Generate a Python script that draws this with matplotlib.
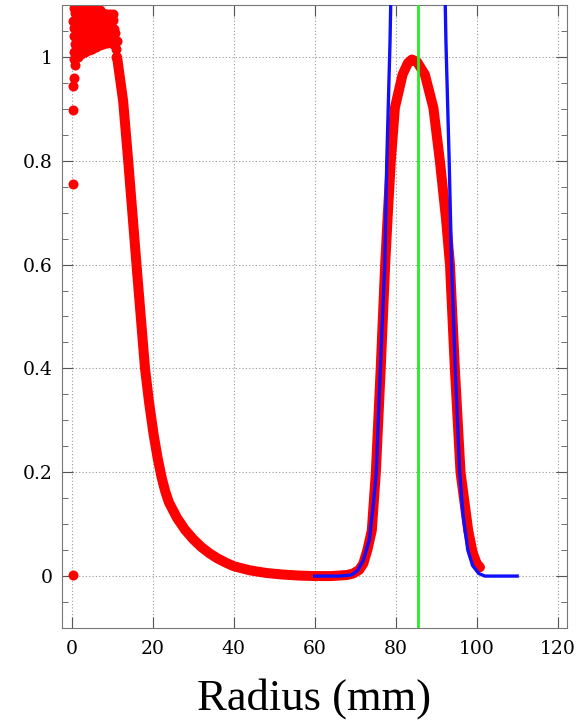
import matplotlib.pyplot as plt
from matplotlib.ticker import MultipleLocator

# noisy plateau near the centre (r < 11 mm)
cloud_r = [0.6, 0.5, 0.7, 0.5, 0.6, 0.4, 0.7, 0.5,
           1.5, 1.4, 1.6, 1.3, 1.5, 1.7, 1.4,
           2.4, 2.5, 2.3, 2.6, 2.4, 2.2, 2.5,
           3.3, 3.2, 3.4, 3.1, 3.3, 3.5, 3.2,
           4.2, 4.3, 4.1, 4.4, 4.2, 4.0,
           5.1, 5.0, 5.2, 4.9, 5.1, 5.3,
           6.0, 6.1, 5.9, 6.2, 6.0, 5.8,
           6.9, 6.8, 7.0, 6.7, 6.9, 7.1,
           7.8, 7.7, 7.9, 7.6, 7.8,
           8.7, 8.6, 8.8, 8.5, 8.7,
           9.6, 9.5, 9.7, 9.4, 9.4,
           10.3, 10.2, 10.4, 10.1, 10.2,
           11.0, 10.9, 11.1, 10.8,
           0.2, 0.2, 0.25, 0.4, 0.5, 0.8]
cloud_v = [0.995, 1.010, 1.025, 1.040, 1.055, 1.070, 1.085, 1.095,
           1.000, 1.016, 1.031, 1.044, 1.061, 1.074, 1.090,
           1.006, 1.020, 1.036, 1.049, 1.066, 1.081, 1.096,
           1.010, 1.026, 1.039, 1.056, 1.071, 1.084, 1.097,
           1.014, 1.031, 1.046, 1.059, 1.076, 1.091,
           1.016, 1.029, 1.046, 1.061, 1.074, 1.090,
           1.019, 1.036, 1.049, 1.066, 1.079, 1.094,
           1.023, 1.036, 1.053, 1.066, 1.082, 1.091,
           1.025, 1.041, 1.054, 1.071, 1.084,
           1.027, 1.043, 1.056, 1.073, 1.082,
           1.031, 1.044, 1.061, 1.074, 1.083,
           1.025, 1.041, 1.054, 1.071, 1.083,
           1.000, 1.016, 1.031, 1.046,
           0.003, 0.756, 0.898, 0.944, 0.960, 0.985]

# smooth part of the measured profile
prof_r = [11.2, 11.9, 12.7, 13.95, 16.0, 18.1, 19.1, 20.2, 21.2, 22.2, 23.1,
          24.0, 26.0, 28.0, 30.0, 32.0, 34.0, 36.0, 38.0, 40.0, 44.0, 48.0,
          52.0, 56.0, 60.0, 64.0, 68.0, 69.5, 71.0, 72.0, 73.0, 74.1, 75.1,
          76.3, 77.4, 78.0, 78.8, 79.8, 81.7, 83.0, 84.0, 85.3, 87.2, 89.3,
          90.9, 92.4, 93.4, 94.6, 96.0, 97.9, 99.0, 100.0, 100.8]
prof_v = [1.000, 0.960, 0.915, 0.800, 0.600, 0.400, 0.335, 0.274, 0.228,
          0.190, 0.163, 0.142, 0.112, 0.089, 0.071, 0.056, 0.044, 0.034,
          0.026, 0.019, 0.011, 0.006, 0.003, 0.001, 0.000, 0.000, 0.002,
          0.005, 0.012, 0.024, 0.050, 0.088, 0.200, 0.400, 0.600, 0.690,
          0.800, 0.902, 0.966, 0.988, 0.995, 0.990, 0.966, 0.902, 0.800,
          0.690, 0.600, 0.400, 0.200, 0.088, 0.045, 0.024, 0.017]

# fitted curve
fit_r = [60.0, 66.0, 69.0, 70.5, 72.0, 73.5, 74.5, 75.2, 76.2, 77.3, 77.8,
         78.6, 79.0, 85.5, 92.0, 92.4, 93.2, 93.8, 94.7, 95.8, 96.6, 97.8,
         99.0, 100.5, 102.0, 110.0]
fit_v = [0.0, 0.0, 0.002, 0.01, 0.03, 0.07, 0.14, 0.2, 0.4, 0.6, 0.8,
         1.03, 1.2, 3.0, 1.2, 1.03, 0.8, 0.6, 0.4, 0.2, 0.12, 0.05,
         0.02, 0.005, 0.0, 0.0]

peak_r = 85.5

plt.rcParams['font.family'] = ['Liberation Serif', 'DejaVu Serif']
fig = plt.figure(figsize=(5.83, 7.2), dpi=100)
ax = fig.add_axes([0.1063, 0.1278, 0.8663, 0.8653])

ax.plot(prof_r, prof_v, color='#ff0000', lw=7.2, solid_capstyle='round',
        solid_joinstyle='round', zorder=2)
ax.plot(cloud_r, cloud_v, 'o', color='#ff0000', ms=7.2, mew=0, zorder=2)
ax.plot(fit_r, fit_v, color='#1010ff', lw=2.4, zorder=3)
ax.axvline(peak_r, color='#22ee22', lw=2.0, zorder=4)

ax.set_xlim(-2.4, 122.3)
ax.set_ylim(-0.1, 1.1)
ax.xaxis.set_major_locator(MultipleLocator(20))
ax.yaxis.set_minor_locator(MultipleLocator(0.05))
ax.set_yticks([0, 0.2, 0.4, 0.6, 0.8, 1.0])
ax.set_yticklabels(['0', '0.2', '0.4', '0.6', '0.8', '1'])
ax.grid(True, which='major', color='#999999', ls=(0, (1, 2)), lw=0.8)
ax.tick_params(which='both', direction='in', top=True, right=True,
               colors='#555555', labelcolor='black', labelsize=13.5)
ax.tick_params(which='major', length=8, pad=7)
ax.tick_params(which='minor', length=4)
ax.tick_params(axis='x', pad=9)
for lbl in ax.get_xticklabels() + ax.get_yticklabels():
    lbl.set_family('DejaVu Serif')
for s in ax.spines.values():
    s.set_color('#777777')
ax.set_xlabel('Radius (mm)', fontsize=32, labelpad=14)

fig.savefig('out.png', dpi=100)
